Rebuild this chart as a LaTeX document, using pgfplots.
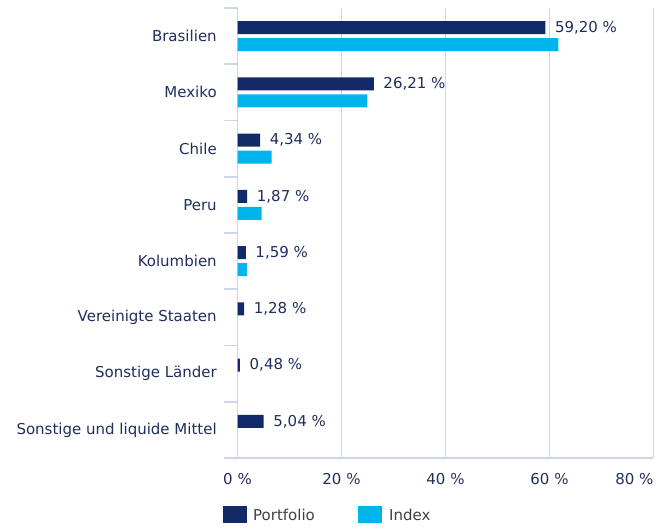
\documentclass[border=0pt]{standalone}
\usepackage{fontspec}
\setmainfont{DejaVu Sans}
\usepackage{pgfplots}
\pgfplotsset{compat=1.18}
\definecolor{navy}{HTML}{122B68}
\definecolor{cyanb}{HTML}{00B4EC}
\definecolor{gridc}{HTML}{CCD8EA}
\definecolor{txt}{HTML}{1F2E5C}
\definecolor{legtxt}{HTML}{404040}
\newcommand{\fs}{\fontsize{15}{18}\selectfont}
\begin{document}
\begin{tikzpicture}
\path[use as bounding box] (0pt,0pt) rectangle (672pt,532pt);
\begin{axis}[
  at={(237.5pt,74pt)}, anchor=south west,
  width=416pt, height=450pt, scale only axis,
  xmin=0, xmax=80, ymin=-0.5, ymax=7.5,
  xbar, bar width=13pt,
  axis x line*=bottom, axis y line*=left,
  axis line style={draw=gridc, line width=1.7pt, -},
  xtick={0,20,40,60,80},
  xticklabels={0 \%,20 \%,40 \%,60 \%,\makebox[0pt][r]{80 \%}},
  xmajorgrids, major grid style={draw=gridc, line width=1.7pt},
  xtick style={draw=none},
  ytick={0,...,7},
  yticklabels={Sonstige und liquide Mittel,Sonstige Länder,Vereinigte Staaten,Kolumbien,Peru,Chile,Mexiko,Brasilien},
  ytick style={draw=none},
  extra y ticks={-0.5,0.5,1.5,2.5,3.5,4.5,5.5,6.5,7.5},
  extra y tick labels={},
  extra y tick style={grid=none, major tick length=13pt, tick align=outside,
     ytick style={draw=gridc, line width=1.7pt}},
  xticklabel style={font=\fs, text=txt, inner sep=0pt, yshift=-15pt},
  yticklabel style={font=\fs, text=txt, inner sep=0pt, anchor=east, xshift=-16.3pt},
  clip=false,
]
\addplot[fill=navy, draw=none, bar shift=8.5pt,
  nodes near coords, point meta=explicit symbolic,
  nodes near coords style={anchor=west, inner sep=0pt, xshift=9.5pt, font=\fs, text=txt}]
  coordinates {
  (59.20,7) [59,20 \%]
  (26.21,6) [26,21 \%]
  (4.34,5) [4,34 \%]
  (1.87,4) [1,87 \%]
  (1.59,3) [1,59 \%]
  (1.28,2) [1,28 \%]
  (0.48,1) [0,48 \%]
  (5.04,0) [5,04 \%]
  };
\addplot[fill=cyanb, draw=none, bar shift=-8.5pt]
  coordinates {
  (61.7,7)
  (25.0,6)
  (6.55,5)
  (4.65,4)
  (1.8,3)
  };
\end{axis}
\fill[navy] (223pt,8.7pt) rectangle (247pt,26pt);
\node[anchor=base west, inner sep=0pt, text=legtxt, font=\fs] at (253pt,11pt) {Portfolio};
\fill[cyanb] (358pt,8.7pt) rectangle (382pt,26pt);
\node[anchor=base west, inner sep=0pt, text=legtxt, font=\fs] at (389pt,11pt) {Index};
\end{tikzpicture}
\end{document}
